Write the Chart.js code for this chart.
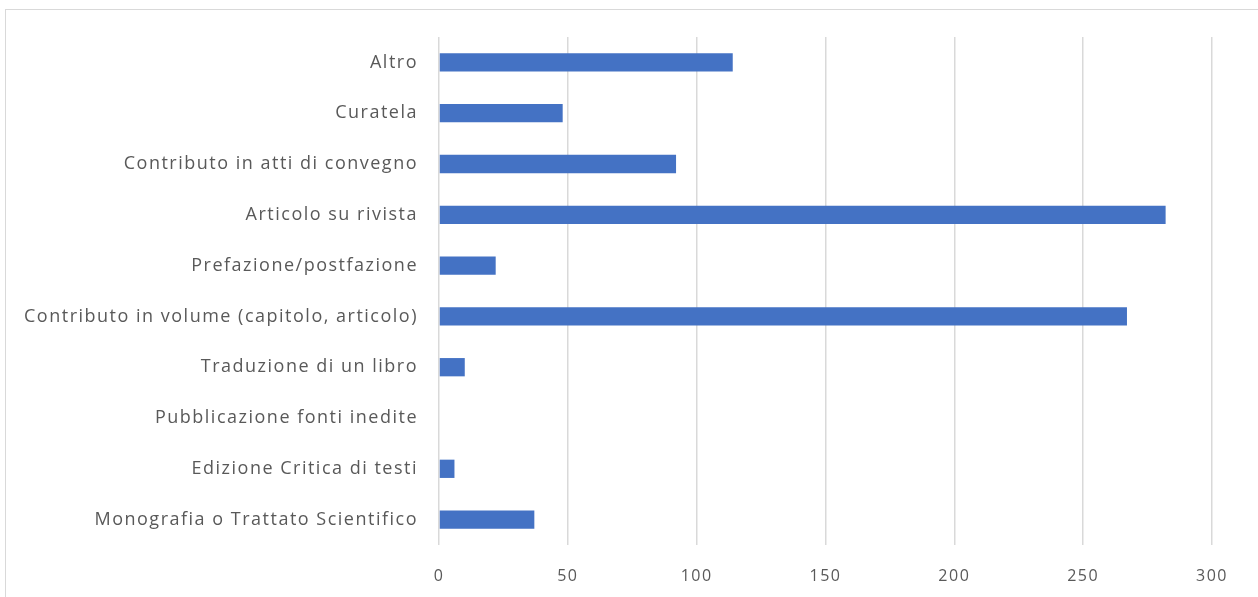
<!DOCTYPE html>
<html>
<head>
<meta charset="utf-8">
<script src="https://cdn.jsdelivr.net/npm/chart.js@4"></script>
<style>
  html, body { margin: 0; padding: 0; background: #fff; overflow: hidden; }
  #frame { position: absolute; left: 5px; top: 9px; width: 1300px; height: 700px; border: 1px solid #d9d9d9; }
  #wrap { position: absolute; left: 0; top: 0; width: 1258px; height: 597px; }
</style>
</head>
<body>
<div id="frame"></div>
<div id="wrap"><canvas id="tipi-chart"></canvas></div>
<script>
const categorie = [
  'Altro',
  'Curatela',
  'Contributo in atti di convegno',
  'Articolo su rivista',
  'Prefazione/postfazione',
  'Contributo in volume (capitolo, articolo)',
  'Traduzione di un libro',
  'Pubblicazione fonti inedite',
  'Edizione Critica di testi',
  'Monografia o Trattato Scientifico'
];
const valori = [114, 48, 92, 282, 22, 267, 10, 0, 6, 37];
const asseMin = 0;
const asseMax = 300;
const asseStep = 50;

// le etichette dell'originale sono un po' spaziate
const spaziatura = {
  id: 'spaziatura',
  beforeDraw: function(chart) {
    chart.ctx.letterSpacing = '1.5px';
  },
};

document.addEventListener('DOMContentLoaded', function() {
  const tipiData = {
    labels: categorie,
    datasets: [
      {
        label: 'Pubblicazioni',
        backgroundColor: 'rgb(68, 114, 196)',
        borderColor: 'rgb(68, 114, 196)',
        borderWidth: 0,
        categoryPercentage: 1,
        barPercentage: 0.36,
        data: valori,
      },
    ],
  };

  const tipiChart = new Chart(document.getElementById('tipi-chart'), {
    type: 'bar',
    data: tipiData,
    plugins: [spaziatura],
    options: {
      indexAxis: 'y',
      responsive: true,
      maintainAspectRatio: false,
      animation: false,
      layout: { padding: { left: 0, right: 46, top: 37, bottom: 0 } },
      plugins: { legend: { display: false }, tooltip: { enabled: false } },
      scales: {
        x: {
          min: asseMin,
          max: asseMax,
          ticks: {
            stepSize: asseStep,
            color: '#595959',
            padding: 22,
            font: { family: 'Open Sans', size: 16 },
          },
          grid: { color: '#d9d9d9', lineWidth: 1.5, drawTicks: false },
          border: { display: false },
          afterFit: function(scale) { scale.height = 52; },
        },
        y: {
          ticks: {
            color: '#595959',
            padding: 21,
            font: { family: 'Open Sans', size: 18 },
          },
          grid: { display: false, drawTicks: false },
          border: { display: false },
          afterFit: function(scale) { scale.width = 439; },
        },
      },
    },
  });
});
</script>
</body>
</html>
